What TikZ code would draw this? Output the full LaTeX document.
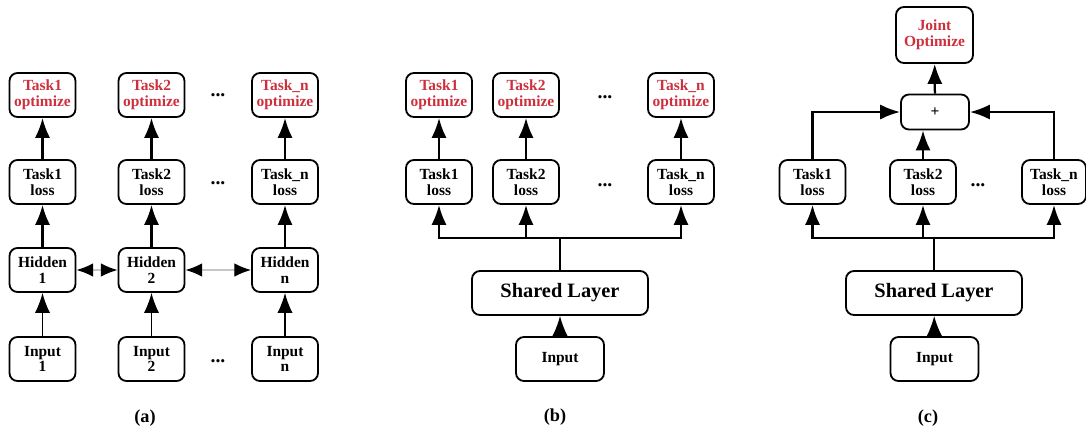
\documentclass[tikz,border=0pt]{standalone}
\usepackage{fontspec}
\setmainfont{Liberation Serif}
\usetikzlibrary{arrows.meta}

\definecolor{taskred}{RGB}{204,48,62}

\tikzset{
  box/.style={draw, line width=1.3pt, rounded corners=2mm, align=center,
    minimum width=1.65cm, minimum height=1.1cm, inner sep=1pt,
    font=\bfseries\fontsize{11}{11.2}\selectfont},
  redbox/.style={box, text=taskred},
  widebox/.style={box, minimum width=4.4cm, font=\bfseries\fontsize{14.5}{16}\selectfont},
  inbox/.style={box, minimum width=2.2cm},
  tip/.style={-{Latex[length=5mm,width=3.8mm]}},
  bigline/.style={line width=1.6pt},
  thinline/.style={line width=0.9pt},
  dots/.style={font=\bfseries\fontsize{14}{14}\selectfont},
  caption/.style={font=\bfseries\fontsize{13}{14}\selectfont}
}

\begin{document}
\begin{tikzpicture}[x=0.25mm, y=-0.25mm]
  \useasboundingbox (0,0) rectangle (1086,432);

  % (a) one network per task
  \node[redbox] (oa1) at (42.5,95) {Task1\\optimize};
  \node[redbox] (oa2) at (151.5,95) {Task2\\optimize};
  \node[redbox] (oan) at (285,95) {Task\_n\\optimize};
  \node[box] (la1) at (42.5,182) {Task1\\loss};
  \node[box] (la2) at (151.5,182) {Task2\\loss};
  \node[box] (lan) at (285,182) {Task\_n\\loss};
  \node[box] (ha1) at (42.5,270) {Hidden\\1};
  \node[box] (ha2) at (151.5,270) {Hidden\\2};
  \node[box] (han) at (285,270) {Hidden\\n};
  \node[box] (ia1) at (42.5,359) {Input\\1};
  \node[box] (ia2) at (151.5,359) {Input\\2};
  \node[box] (ian) at (285,359) {Input\\n};
  \node[dots] (da1) at (218,95) {...};
  \node[dots] (da2) at (218,183) {...};
  \node[dots] (da3) at (218,361) {...};
  \foreach \c in {1,2,n} {
    \draw[bigline,tip] (la\c) -- (oa\c);
    \draw[bigline,tip] (ha\c) -- (la\c);
    \draw[thinline,tip] (ia\c) -- (ha\c);
  }
  \draw[gray!45, line width=1pt,
    {Latex[length=4.2mm,width=3.4mm,color=black]}-{Latex[length=4.2mm,width=3.4mm,color=black]}]
    (ha1) -- (ha2);
  \draw[gray!45, line width=1pt,
    {Latex[length=4.2mm,width=3.4mm,color=black]}-{Latex[length=4.2mm,width=3.4mm,color=black]}]
    (ha2) -- (han);
  \node[caption] (capa) at (145,418) {(a)};

  % (b) shared layer, separate optimizers
  \node[redbox] (ob1) at (439,95) {Task1\\optimize};
  \node[redbox] (ob2) at (526,95) {Task2\\optimize};
  \node[redbox] (obn) at (681,95) {Task\_n\\optimize};
  \node[box] (lb1) at (439,182) {Task1\\loss};
  \node[box] (lb2) at (526,182) {Task2\\loss};
  \node[box] (lbn) at (681,182) {Task\_n\\loss};
  \node[dots] (db1) at (605,97) {...};
  \node[dots] (db2) at (605,185) {...};
  \node[widebox] (shb) at (560,293) {Shared Layer};
  \node[inbox] (inb) at (560,359) {Input};
  \coordinate (busb) at (560,238);
  \foreach \c in {1,2,n} {
    \draw[bigline,tip] (lb\c) -- (ob\c);
    \draw[bigline,tip] (busb) -| (lb\c.south);
  }
  \draw[thinline] (shb.north) -- (busb);
  \draw[thinline,tip] (inb) -- (shb);
  \node[caption] (capb) at (555,417) {(b)};

  % (c) shared layer, joint optimizer
  \node[redbox, minimum width=1.925cm, minimum height=1.4cm] (joint) at (934.5,35) {Joint\\Optimize};
  \node[box, minimum width=1.7cm, minimum height=0.875cm] (plus) at (935,112) {+};
  \node[box] (lc1) at (812.5,182) {Task1\\loss};
  \node[box] (lc2) at (923,182) {Task2\\loss};
  \node[box, minimum width=1.6cm] (lcn) at (1054,182) {Task\_n\\loss};
  \node[dots] (dc1) at (978,185) {...};
  \node[widebox] (shc) at (934,293) {Shared Layer};
  \node[inbox] (inc) at (934.5,359) {Input};
  \coordinate (busc) at (934,238);
  \foreach \c in {1,2,n}
    \draw[bigline,tip] (busc) -| (lc\c.south);
  \draw[bigline] (shc.north) -- (busc);
  \draw[thinline,tip] (inc) -- (shc);
  \draw[bigline,tip] (lc1.north) |- (plus.west);
  \draw[bigline,tip] (lcn.north) |- (plus.east);
  \draw[bigline,tip] (lc2.north) -- (lc2.north |- plus.south);
  \draw[bigline,tip] (plus) -- (joint);
  \node[caption] (capc) at (928,418) {(c)};
\end{tikzpicture}
\end{document}
